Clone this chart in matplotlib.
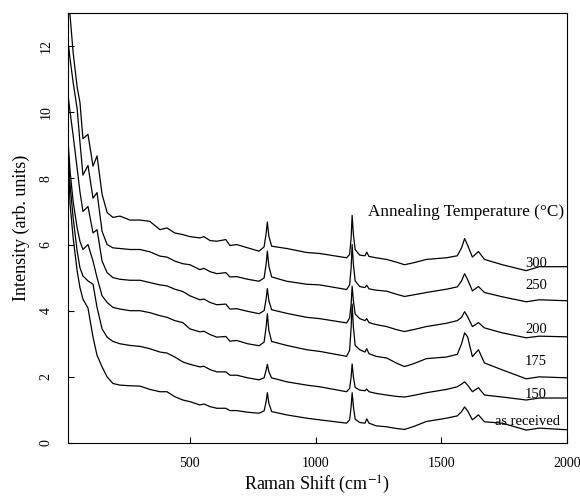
"""Raman spectra of annealed samples, stacked by annealing temperature."""
import matplotlib
matplotlib.use("Agg")
import matplotlib.pyplot as plt

plt.rcParams['font.family'] = ['Liberation Serif', 'DejaVu Serif']
plt.rcParams['mathtext.fontset'] = 'stix'

# Raman shift (cm-1) sample positions
shift = [16, 24, 36, 52, 63, 75, 95, 115, 131, 151, 171, 194, 222, 262, 302,
         341, 381, 409, 440, 472, 500, 540, 556, 580, 607, 643, 659, 686, 730,
         775, 795, 803, 808, 814, 825, 885, 964, 1016, 1123, 1135, 1141, 1145,
         1150, 1157, 1175, 1196, 1203, 1212, 1240, 1282, 1320, 1353, 1390, 1440,
         1520, 1563, 1580, 1592, 1604, 1623, 1647, 1671, 1742, 1837, 1889, 2000]

t300 = [13.3, 12.9, 11.8, 10.75, 10.3, 9.2, 9.33, 8.37, 8.68, 7.52, 6.97, 6.82,
        6.86, 6.74, 6.74, 6.7, 6.45, 6.5, 6.35, 6.3, 6.24, 6.2, 6.24, 6.12, 6.1,
        6.15, 5.97, 6.0, 5.9, 5.8, 5.93, 6.33, 6.68, 6.25, 5.95, 5.88, 5.76,
        5.73, 5.6, 5.7, 6.2, 6.88, 6.3, 5.85, 5.68, 5.66, 5.77, 5.64, 5.6, 5.55,
        5.47, 5.39, 5.45, 5.55, 5.6, 5.66, 5.9, 6.18, 5.98, 5.62, 5.79, 5.55,
        5.39, 5.21, 5.33, 5.33]
t250 = [12.1, 11.6, 10.9, 10.1, 9.1, 8.1, 8.39, 7.4, 7.57, 6.4, 6.0, 5.9, 5.88,
        5.85, 5.85, 5.78, 5.65, 5.62, 5.5, 5.42, 5.39, 5.24, 5.28, 5.18, 5.12,
        5.15, 5.02, 5.03, 4.95, 4.89, 4.99, 5.4, 5.8, 5.35, 5.02, 4.89, 4.8,
        4.78, 4.64, 4.78, 5.3, 6.0, 5.4, 4.9, 4.73, 4.7, 4.77, 4.66, 4.62, 4.59,
        4.5, 4.43, 4.48, 4.55, 4.65, 4.72, 4.9, 5.12, 4.94, 4.6, 4.73, 4.55,
        4.42, 4.27, 4.33, 4.3]
t200 = [10.5, 10.0, 9.3, 8.3, 7.6, 7.0, 7.15, 6.35, 6.45, 5.5, 5.15, 5.0, 4.95,
        4.92, 4.92, 4.85, 4.78, 4.75, 4.65, 4.58, 4.45, 4.33, 4.35, 4.25, 4.18,
        4.2, 4.05, 4.06, 3.98, 3.91, 4.0, 4.35, 4.67, 4.3, 4.03, 3.92, 3.8,
        3.76, 3.63, 3.78, 4.2, 4.74, 4.3, 3.9, 3.76, 3.7, 3.76, 3.64, 3.58, 3.52,
        3.43, 3.37, 3.43, 3.52, 3.62, 3.7, 3.8, 3.97, 3.82, 3.52, 3.64, 3.48,
        3.33, 3.18, 3.23, 3.21]
t175 = [9.1, 8.2, 7.3, 6.5, 6.1, 5.85, 6.0, 5.5, 5.0, 4.45, 4.25, 4.1, 4.05,
        4.0, 4.0, 3.94, 3.85, 3.8, 3.7, 3.64, 3.45, 3.36, 3.38, 3.28, 3.2, 3.22,
        3.08, 3.1, 3.0, 2.94, 3.05, 3.5, 3.91, 3.4, 3.07, 2.95, 2.82, 2.77,
        2.62, 2.8, 3.5, 4.2, 3.5, 2.95, 2.82, 2.75, 2.85, 2.7, 2.62, 2.57, 2.42,
        2.31, 2.4, 2.55, 2.6, 2.68, 3.0, 3.33, 3.21, 2.61, 2.82, 2.42, 2.21,
        1.94, 2.0, 1.97]
t150 = [8.9, 7.8, 6.8, 5.8, 5.3, 5.05, 4.9, 4.8, 4.1, 3.45, 3.2, 3.07, 3.0,
        2.95, 2.92, 2.85, 2.75, 2.72, 2.6, 2.45, 2.38, 2.3, 2.32, 2.22, 2.15,
        2.15, 2.05, 2.05, 1.97, 1.91, 1.97, 2.2, 2.38, 2.15, 1.97, 1.85, 1.75,
        1.7, 1.55, 1.65, 2.0, 2.39, 2.0, 1.68, 1.6, 1.58, 1.63, 1.55, 1.5, 1.45,
        1.41, 1.39, 1.44, 1.52, 1.62, 1.7, 1.78, 1.85, 1.75, 1.55, 1.67, 1.45,
        1.39, 1.3, 1.36, 1.36]
t_as = [8.7, 7.2, 6.2, 5.2, 4.7, 4.35, 4.08, 3.2, 2.65, 2.3, 2.0, 1.8, 1.75,
        1.73, 1.72, 1.62, 1.55, 1.55, 1.4, 1.3, 1.25, 1.15, 1.18, 1.1, 1.05,
        1.05, 0.98, 0.98, 0.93, 0.9, 0.97, 1.25, 1.52, 1.2, 0.95, 0.85, 0.75,
        0.7, 0.6, 0.7, 1.1, 1.52, 1.1, 0.72, 0.62, 0.6, 0.73, 0.6, 0.52, 0.49,
        0.44, 0.41, 0.5, 0.65, 0.75, 0.82, 0.95, 1.09, 0.97, 0.7, 0.85, 0.64,
        0.6, 0.39, 0.45, 0.4]

spectra = [t300, t250, t200, t175, t150, t_as]
labels = ['300', '250', '200', '175', '150', 'as received']
label_x = [1876, 1876, 1876, 1876, 1876, 1841]
label_y = [5.42, 4.76, 3.42, 2.45, 1.47, 0.66]

fig = plt.figure(figsize=(5.8, 5.0), dpi=100)
ax = fig.add_axes([0.117, 0.114, 0.861, 0.86])

for ys in spectra:
    ax.plot(shift, ys, color='black', linewidth=0.9)

for lab, lx, ly in zip(labels, label_x, label_y):
    ax.text(lx, ly, lab, ha='center', va='center', fontsize=10.5)

ax.text(1598, 6.97, 'Annealing Temperature (\u00b0C)', ha='center',
        va='center', fontsize=12.3)

ax.set_xlim(15, 2000)
ax.set_ylim(0, 13)
ax.set_xticks([500, 1000, 1500, 2000])
ax.set_yticks([0, 2, 4, 6, 8, 10, 12])
ax.tick_params(direction='in', length=4, width=0.8, labelsize=10)
ax.tick_params(axis='x', pad=10)
ax.tick_params(axis='y', pad=11)
for lab in ax.get_yticklabels():
    lab.set_rotation(90)
    lab.set_va('center')

ax.set_xlabel('Raman Shift (cm$^{-1}$)', fontsize=13, labelpad=3)
ax.set_ylabel('Intensity (arb. units)', fontsize=13, labelpad=7)

fig.savefig('out.png', dpi=100)
